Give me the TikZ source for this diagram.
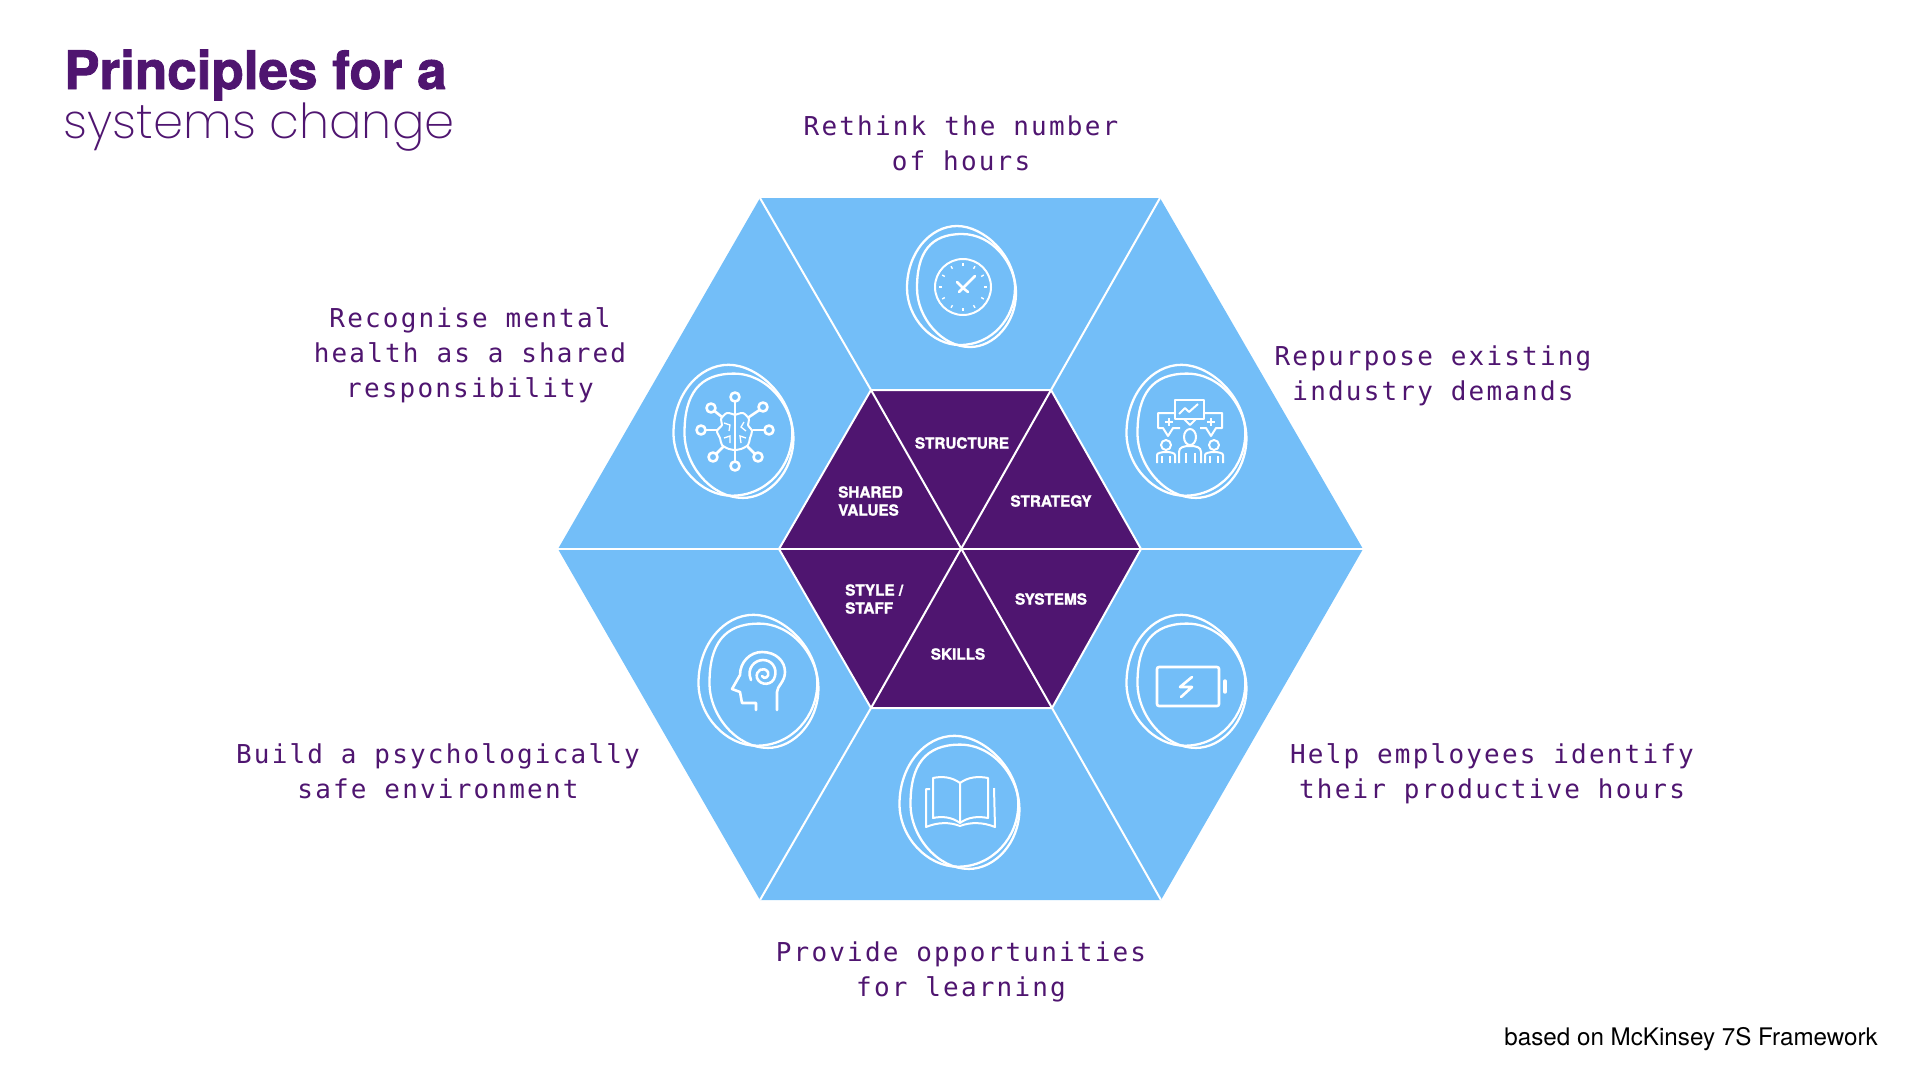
\documentclass[tikz,border=0pt]{standalone}
\usepackage{fontspec}
\usetikzlibrary{calc}
\setmainfont{TeX Gyre Heros}[BoldFeatures={FakeBold=1.6}]
\newfontfamily\labelfont[LetterSpace=8.4]{DejaVu Sans Mono}
\newfontfamily\thinfont{Poppins ExtraLight}
\definecolor{sky}{HTML}{73BEF8}
\definecolor{plum}{HTML}{4F1570}
\begin{document}
\begin{tikzpicture}
[x=1pt,y=-1pt,
 principle/.style={align=center,text=plum,inner sep=0pt,font=\labelfont\fontsize{26}{35}\selectfont},
 seven/.style={align=left,text=white,inner sep=0pt,font=\bfseries\fontsize{15.3}{18}\selectfont},
 spoke/.style={draw=white,line width=2pt},
 icon/.style={draw=white,line width=2pt,line join=round},
 thick icon/.style={draw=white,line width=2.6pt,line join=round,line cap=round},
 blob/.pic={
  \draw[white,line width=2.3pt] (-55,0) .. controls (-55,-35) and (-32,-62) .. (-5,-62) .. controls (22,-62) and (53,-32) .. (53,0) .. controls (53,30) and (30,57) .. (-2,57) .. controls (-30,57) and (-55,30) .. (-55,0) -- cycle;
  \draw[white,line width=2.3pt] (-45,0) .. controls (-45,-35) and (-32,-54) .. (0,-54) .. controls (30,-54) and (54,-25) .. (54,5) .. controls (54,35) and (32,59) .. (8,59) .. controls (-20,59) and (-45,30) .. (-45,0) -- cycle;
 }]

\useasboundingbox (0,0) rectangle (1920,1080);

\coordinate (c) at (961,549);
\coordinate (o1) at (760,198);
\coordinate (o2) at (1160,198);
\coordinate (o3) at (1363,549);
\coordinate (o4) at (1161,900);
\coordinate (o5) at (760,900);
\coordinate (o6) at (558,549);
\coordinate (i1) at (871,390);
\coordinate (i2) at (1051,390);
\coordinate (i3) at (1141,549);
\coordinate (i4) at (1052,708);
\coordinate (i5) at (871,708);
\coordinate (i6) at (779,549);

\fill[sky] (o1) -- (o2) -- (o3) -- (o4) -- (o5) -- (o6) -- cycle;
\fill[plum] (i1) -- (i2) -- (i3) -- (i4) -- (i5) -- (i6) -- cycle;

\draw[spoke] (i1) -- (o1);
\draw[spoke] (i2) -- (o2);
\draw[spoke] (i3) -- (o3);
\draw[spoke] (i4) -- (o4);
\draw[spoke] (i5) -- (o5);
\draw[spoke] (i6) -- (o6);
\draw[spoke] (i1) -- (i2) -- (i3) -- (i4) -- (i5) -- (i6) -- cycle;
\draw[spoke] (i1) -- (i4);
\draw[spoke] (i2) -- (i5);
\draw[spoke] (i3) -- (i6);

\node (title) at (64,89) [anchor=base west,inner sep=0pt,text=plum,font=\bfseries\fontsize{53}{53}\selectfont] {Principles for a};
\node (subtitle) at (63,138) [anchor=base west,inner sep=0pt,text=plum,font=\thinfont\fontsize{48.2}{50}\selectfont] {systems change};

\node (hours) at (961,143) [principle] {Rethink the number\\of hours};
\node (mental) at (470,355) [principle] {Recognise mental\\health as a shared\\responsibility};
\node (demands) at (1433,376) [principle] {Repurpose existing\\industry demands};
\node (productive) at (1492,774) [principle] {Help employees identify\\their productive hours};
\node (safe) at (438,771) [principle] {Build a psychologically\\safe environment};
\node (learning) at (961,972) [principle] {Provide opportunities\\for learning};
\node (source) at (1878,1039) [anchor=east,inner sep=0pt,font=\fontsize{24.2}{26}\selectfont] {based on McKinsey 7S Framework};

\node (structure) at (962,443) [seven] {STRUCTURE};
\node (strategy) at (1051,501) [seven] {STRATEGY};
\node (values) at (838,501) [seven,anchor=west] {SHARED\\VALUES};
\node (style) at (845,599) [seven,anchor=west] {STYLE /\\STAFF};
\node (systems) at (1051,599) [seven] {SYSTEMS};
\node (skills) at (958,654) [seven] {SKILLS};

\pic (clockblob) at (962,288) {blob};
\pic (peopleblob) [xscale=1.1,yscale=1.1] at (1187,433) {blob};
\pic (brainblob) [xscale=1.1,yscale=1.1] at (734,433) {blob};
\pic (headblob) [xscale=1.1,yscale=1.1] at (759,683) {blob};
\pic (bookblob) [xscale=1.1,yscale=1.1] at (960,804) {blob};
\pic (batteryblob) [xscale=1.1,yscale=1.1] at (1187,683) {blob};

\draw[icon] (963,287) circle (28);
\foreach \a in {0,30,...,330}
  \draw[white,line width=1.4pt] ($(963,287)+(\a:21)$) -- ($(963,287)+(\a:24)$);
\draw[thick icon] (957,282) -- (963,288) -- (975,276);
\draw[thick icon] (959,292) -- (963,288) -- (968,292);

\draw[icon] (1175,400) rectangle (1204,419);
\draw[icon] (1184,419) -- (1190,425) -- (1196,419);
\draw[icon] (1179,414) -- (1185,408) -- (1189,412) -- (1198,404);
\draw[icon] (1175,413) -- (1158,413) -- (1158,428) -- (1163,428) -- (1168,436) -- (1173,428) -- (1180,428);
\draw[icon] (1204,413) -- (1222,413) -- (1222,428) -- (1216,428) -- (1211,436) -- (1206,428) -- (1200,428);
\draw[icon] (1165,422) -- (1173,422) (1169,418) -- (1169,426);
\draw[icon] (1207,422) -- (1215,422) (1211,418) -- (1211,426);
\draw[icon] (1190,437) ellipse (6 and 8);
\draw[icon] (1179,463) -- (1179,452) .. controls (1179,447) and (1184,446) .. (1190,446) .. controls (1196,446) and (1201,447) .. (1201,452) -- (1201,463);
\draw[icon] (1186,463) -- (1186,453) (1195,463) -- (1195,453);
\draw[icon] (1166,445) circle (5);
\draw[icon] (1157,463) -- (1157,455) .. controls (1157,451) and (1175,451) .. (1175,455) -- (1175,463);
\draw[icon] (1162,463) -- (1162,456) (1170,463) -- (1170,456);
\draw[icon] (1214,445) circle (5);
\draw[icon] (1205,463) -- (1205,455) .. controls (1205,451) and (1223,451) .. (1223,455) -- (1223,463);
\draw[icon] (1210,463) -- (1210,456) (1218,463) -- (1218,456);

\draw[thick icon,rounded corners=2pt] (1157,667) rectangle (1219,706);
\draw[thick icon,line width=3.4pt] (1225,681) -- (1225,692);
\draw[thick icon] (1192,677) -- (1180,687) -- (1192,687) -- (1181,697);

\draw[icon] (960,783) .. controls (952,777) and (942,776) .. (933,778) -- (933,818) .. controls (942,816) and (952,817) .. (960,823) .. controls (968,817) and (978,816) .. (988,818) -- (988,778) .. controls (978,776) and (968,777) .. (960,783) -- (960,823);
\draw[icon] (930,789) -- (926,789) -- (926,827) .. controls (938,822) and (950,822) .. (960,826) .. controls (970,822) and (983,822) .. (995,827) -- (994,788);

\draw[thick icon] (756,710) -- (756,703) -- (742,703) -- (740,692) -- (732,689) -- (740,675) .. controls (740,662) and (750,652) .. (762,652) .. controls (776,652) and (785,661) .. (785,672) .. controls (785,682) and (777,686) .. (777,692) -- (777,710);
\draw[thick icon] (751,680) .. controls (746,668) and (755,660) .. (763,660) .. controls (772,660) and (777,668) .. (775,676) .. controls (773,686) and (760,686) .. (757,678) .. controls (755,670) and (764,666) .. (768,672) .. controls (770,677) and (764,680) .. (762,676);

\foreach \x/\y in {735/397,735/466,701/430,769/430,711/408,763/407,713/457,758/457}
  \draw[thick icon] (\x,\y) circle (4.5);
\draw[thick icon] (735,402) -- (735,461);
\draw[thick icon] (705.5,430) -- (717,430) (753,430) -- (764.5,430);
\draw[thick icon] (714.5,411) -- (722,417) (759.5,410) -- (749,417);
\draw[thick icon] (716,454) -- (723,447) (755,454) -- (748,447);
\draw[icon] plot [smooth] coordinates {(735,415) (727,413) (721,419) (722,425) (717,431) (720,438) (722,445) (729,449) (735,450)};
\draw[icon] plot [smooth] coordinates {(735,415) (743,413) (749,419) (748,425) (752,431) (750,438) (748,445) (741,449) (735,450)};
\draw[white,line width=1.3pt] (724,423) -- (730,425) -- (729,431) (744,422) -- (741,427) -- (746,431);
\draw[white,line width=1.3pt] (724,438) -- (730,436) -- (730,443) (746,438) -- (740,436) -- (741,443);

\end{tikzpicture}
\end{document}
